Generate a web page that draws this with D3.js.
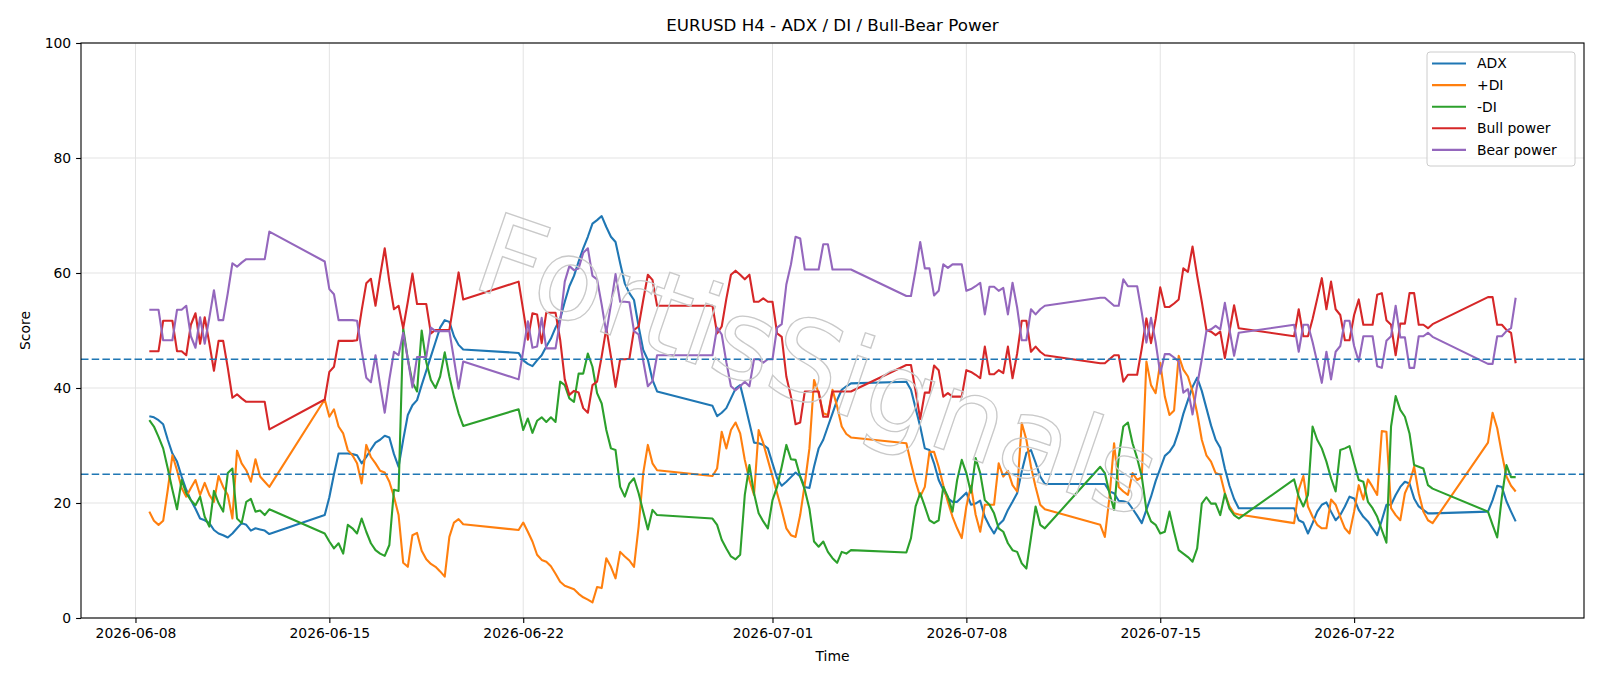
<!DOCTYPE html>
<html>
<head>
<meta charset="utf-8">
<script src="https://cdn.jsdelivr.net/npm/d3@7"></script>
<style>
  body { margin: 0; background: #fff; }
  svg { display: block; }
  text { font-family: "DejaVu Sans", sans-serif; }
</style>
</head>
<body>
<div id="chart"></div>
<script>
// H4 trading sessions (each expanded into 4h bars)
const sessions = [
  ["2026-06-08T12:00", "2026-06-12T20:00"],
  ["2026-06-14T20:00", "2026-06-19T20:00"],
  ["2026-06-21T20:00", "2026-06-26T20:00"],
  ["2026-06-28T20:00", "2026-07-03T20:00"],
  ["2026-07-05T20:00", "2026-07-10T20:00"],
  ["2026-07-12T20:00", "2026-07-17T20:00"],
  ["2026-07-19T20:00", "2026-07-24T20:00"],
  ["2026-07-26T20:00", "2026-07-27T20:00"]
];

const adx = [
  35.1, 34.9, 34.4, 33.7, 31, 28.6, 27.2, 24.6, 22.3, 20.5, 19, 17.3, 17, 16.5, 15.3, 14.7, 14.4, 14, 14.7, 15.6, 16.5, 16.2, 15.2, 15.6, 15.4, 15.2, 14.6,
  17.9, 21, 25, 28.6, 28.6, 28.6, 28.5, 28.3, 26.9, 28, 29.3, 30.5, 31, 31.7, 31.4, 28.5, 26.3, 31, 35.3, 37, 37.9, 40.5, 43, 45.5, 48, 50.5, 51.8, 51.5, 49, 47.5, 46.7,
  46.1, 44.8, 44.2, 43.8, 44.8, 45.7, 47.2, 48.6, 50.5, 52, 55, 57.7, 59.5, 62, 64.3, 66.3, 68.6, 69.2, 69.9, 68, 66.3, 65.4, 61.7, 58.2, 56.5, 55.3, 50.7, 46.6, 44.9, 41.4, 39.4,
  36.9, 35.1, 35.7, 36.5, 38.2, 39.9, 40.5, 37.3, 33.9, 30.5, 30.4, 30.1, 29.5, 26.9, 24.3, 23, 23.7, 24.5, 25.3, 24.6, 22.8, 22.6, 26.3, 29.5, 31, 33.3, 35.6, 37.9, 39.7, 40.3, 40.8,
  41.1, 39.7, 36.5, 33.3, 29.5, 29.2, 26.9, 24, 22.3, 20.8, 20.2, 20.2, 21, 21.8, 19.7, 19.9, 20.4, 17.6, 16, 14.7, 16.2, 17, 18.8, 20.2, 21.7, 25.5, 28.7, 29.2, 27, 24.6, 23.3,
  23.3, 23.3, 22, 21.7, 20.4, 20.3, 20.1, 19, 17.8, 16.5, 18.8, 21.1, 23.8, 26, 28.2, 28.9, 30.1, 32.5, 35.5, 37.9, 40.2, 41.8, 39.5, 36.5, 33.5, 31, 29.6, 26, 23, 20.7, 19.1,
  19.1, 17, 16.6, 14.7, 16.5, 18.5, 19.7, 20.1, 18.5, 17, 17.9, 19.4, 21.1, 20.8, 18.8, 17.6, 16.8, 15.6, 14.4, 17, 19.7, 19.7, 21.4, 22.8, 23.7, 23.4, 20.8, 19.4, 18.8, 18.2, 18.2,
  18.5, 20.5, 23, 22.8, 20.3, 18.5, 16.8
];

const plusDI = [
  18.5, 16.9, 16.2, 16.9, 22.3, 28.3, 25.7, 22.6, 21.1, 22.6, 24, 21.4, 23.5, 21.4, 20.2, 24.7, 22.8, 21.4, 17.3, 29.1, 26.9, 25.7, 23.7, 27.6, 24.6, 23.7, 22.8,
  38, 35, 36.3, 33.3, 32.1, 29.2, 28.3, 26.9, 23.4, 30.1, 28, 26.9, 25.6, 25.3, 23.7, 21.1, 17.9, 9.6, 8.9, 14.4, 14.8, 11.7, 10.2, 9.4, 8.9, 8.1, 7.2, 14.1, 16.6, 17.2, 16.3,
  15.3, 16.6, 15, 13.3, 11, 10.1, 9.8, 9, 7.7, 6.3, 5.6, 5.3, 5, 4.2, 3.6, 3.2, 2.7, 5.4, 5.2, 10.4, 8.9, 6.9, 11.5, 10.7, 10, 8.9, 15.9, 25.2, 30.1, 26.9, 25.7,
  24.7, 26, 32.4, 29.5, 32.7, 34, 32.1, 27.5, 24, 21.4, 32.7, 30.4, 27.5, 24.6, 21.7, 18.8, 15.6, 14.4, 14.1, 17.9, 23.3, 29.5, 41.4, 39.1, 35.6, 35.3, 39.7, 36.8, 33.3, 32, 31.4,
  30.4, 26.9, 23.7, 21.1, 22.8, 28.9, 28.9, 26.3, 23.1, 20.2, 17.6, 15.6, 13.9, 19.4, 23, 18, 15, 19.7, 19.7, 19.7, 26.9, 24.6, 25.6, 23.1, 22, 33.9, 31, 26.3, 22.8, 19.7, 18.9,
  16.2, 14.1, 21, 30.4, 22.8, 22, 21.4, 25.2, 24, 24.5, 44.6, 40.5, 39.1, 44.4, 38.5, 35.3, 36.1, 45.6, 43.2, 42, 39.4, 35.6, 31, 28.3, 27.2, 25.2, 24.9, 21.7, 19.4, 18.2, 18,
  16.5, 22.3, 24.7, 19.4, 17.6, 16.2, 15.6, 15.6, 20.6, 19.7, 17.6, 15.6, 14.7, 18.5, 23.1, 20.6, 24.1, 22.8, 21.4, 32.5, 32.4, 19.1, 17.9, 17, 21.7, 23.5, 26.3, 21.7, 18.5, 17, 16.5,
  30.5, 35.7, 33, 28.6, 24.6, 23, 22
];

const minusDI = [
  34.4, 33.3, 31.5, 29.5, 26, 22.3, 18.9, 24, 21.7, 20.5, 19.6, 21.1, 17.6, 15.9, 22.1, 20, 18.5, 25.2, 26, 17.3, 16.5, 20.2, 20.7, 18.5, 18.7, 17.9, 18.9,
  14.7, 13.3, 12.1, 13, 11.2, 16.2, 15.6, 14.7, 17.3, 15, 13, 11.8, 11.2, 10.8, 12.7, 22.3, 22.1, 50.4, 45, 41, 39.4, 50, 44.5, 41.4, 40, 42, 46.2, 42, 38.5, 35.6, 33.4,
  36.3, 32.7, 34.7, 32.2, 34.3, 34.9, 34.1, 34.9, 34.1, 41.1, 40.5, 38.2, 37.6, 42.5, 42.5, 46, 43.7, 39.1, 37.3, 32.7, 29.5, 29.2, 22.8, 21.1, 23.4, 24.3, 21.7, 18.5, 15.4, 18.8, 17.9,
  17.3, 16.2, 13.6, 12.1, 10.7, 10.2, 11, 21.4, 26.6, 21.7, 18.2, 16.8, 15.6, 20.5, 22.8, 26.3, 30.1, 27.6, 27.5, 24.6, 22.3, 19, 13.3, 12.4, 13.3, 11.5, 10.4, 9.6, 11.5, 11.2, 11.8,
  11.4, 13.9, 19.4, 21.7, 19.4, 17, 16.5, 17, 22.8, 21.1, 18.5, 24, 27.5, 25.2, 21.8, 27.8, 25.2, 20.5, 19.7, 18.2, 15.6, 15, 13, 11.8, 11.5, 9.5, 8.6, 14, 19.4, 16.2, 15.6,
  26.3, 25.2, 21.7, 18.8, 28, 33.3, 34, 30.4, 27.8, 24.6, 18.8, 16.8, 16.2, 14.7, 15, 18.5, 15, 11.8, 11.2, 10.6, 9.8, 12.1, 19.9, 21, 19.9, 19.9, 17.9, 21.6, 19, 17.9, 17.3,
  24.1, 21.1, 19.4, 21.4, 33.3, 31, 29.5, 27.2, 24.3, 22, 29.2, 29.5, 29.9, 26.9, 24, 23.7, 20.2, 19.1, 17.6, 15.3, 13.1, 33.3, 38.6, 36.2, 35, 32.1, 26.6, 26.3, 26, 23.1, 22.5,
  18.5, 16.2, 14, 21, 26.6, 24.5, 24.5
];

const bullPower = [
  46.4, 46.4, 46.4, 51.7, 51.7, 51.7, 46.4, 46.4, 45.7, 51, 53, 47.7, 52.3, 47.8, 43, 48.2, 48.2, 43.5, 38.3, 38.9, 38.2, 37.6, 37.6, 37.6, 37.6, 37.6, 32.8,
  38, 42.8, 43.7, 48.2, 48.2, 48.2, 48.2, 48.3, 53.5, 58.2, 59, 54.3, 59.5, 64.3, 58.5, 53.7, 54.3, 50.4, 55, 59.9, 54.6, 54.6, 54.6, 49.5, 50.1, 50.1, 50.1, 50.1, 55, 60.1, 55.4,
  58.5, 53.5, 48.4, 53, 52.8, 47.8, 53.1, 53.1, 53.1, 48.4, 41.5, 38.8, 39.5, 39.2, 36.5, 35.7, 40.5, 41.1, 45.5, 50.4, 45.5, 40.2, 45, 45, 45.1, 50.1, 50.7, 55.3, 59.7, 58.8, 54.3,
  54.3, 49.5, 50.7, 55.5, 59.7, 60.4, 59.7, 58.9, 59.7, 55, 55, 55.6, 55, 55, 49.5, 48.9, 42, 38.5, 33.7, 34, 39.4, 39.4, 39.4, 39.4, 35, 35, 39.4, 39.4, 39.4, 39.4, 39.4,
  44, 44, 39.5, 34.6, 39.2, 39.2, 43.9, 43.1, 38.5, 39.1, 38.5, 38.5, 38.5, 43.1, 42.8, 42.3, 41.7, 47.2, 42.4, 42.4, 43.1, 42.6, 47.2, 41.7, 46, 51.7, 51.7, 46.3, 47.2, 46.3, 45.7,
  44.3, 44.3, 45, 45.7, 45.7, 41.1, 42.3, 42.3, 42.3, 46.9, 52.1, 47.8, 52, 57.5, 54.1, 54.1, 54.7, 55.4, 60.8, 60.2, 64.6, 59.5, 55, 50.1, 49.8, 49.2, 49.8, 45.2, 49.8, 54.4, 50.4,
  49, 53.7, 49, 49, 52, 55.5, 59.1, 53.7, 58.5, 53.7, 52.7, 48.3, 48.3, 52.7, 55.4, 51, 51, 51, 56.2, 56.5, 51.8, 51, 45.7, 51.2, 51.2, 56.5, 56.5, 51, 51, 50.4, 51.1,
  55.8, 55.8, 51, 51, 50.1, 49.6, 44.3
];

const bearPower = [
  53.6, 53.6, 53.6, 48.3, 48.3, 48.3, 53.6, 53.6, 54.3, 49, 47, 52.3, 47.7, 52.2, 57, 51.8, 51.8, 56.5, 61.7, 61.1, 61.8, 62.4, 62.4, 62.4, 62.4, 62.4, 67.2,
  62, 57.2, 56.3, 51.8, 51.8, 51.8, 51.8, 51.7, 46.5, 41.8, 41, 45.7, 40.5, 35.7, 41.5, 46.3, 45.7, 49.6, 45, 40.1, 45.4, 45.4, 45.4, 50.5, 49.9, 49.9, 49.9, 49.9, 45, 39.9, 44.6,
  41.5, 46.5, 51.6, 47, 47.2, 52.2, 46.9, 46.9, 46.9, 51.6, 58.5, 61.2, 60.5, 60.8, 63.5, 64.3, 59.5, 58.9, 54.5, 49.6, 54.5, 59.8, 55, 55, 54.9, 49.9, 49.3, 44.7, 40.3, 41.2, 45.7,
  45.7, 50.5, 49.3, 44.5, 40.3, 39.6, 40.3, 41.1, 40.3, 45, 45, 44.4, 45, 45, 50.5, 51.1, 58, 61.5, 66.3, 66, 60.6, 60.6, 60.6, 60.6, 65, 65, 60.6, 60.6, 60.6, 60.6, 60.6,
  56, 56, 60.5, 65.4, 60.8, 60.8, 56.1, 56.9, 61.5, 60.9, 61.5, 61.5, 61.5, 56.9, 57.2, 57.7, 58.3, 52.8, 57.6, 57.6, 56.9, 57.4, 52.8, 58.3, 54, 48.3, 48.3, 53.7, 52.8, 53.7, 54.3,
  55.7, 55.7, 55, 54.3, 54.3, 58.9, 57.7, 57.7, 57.7, 53.1, 47.9, 52.2, 48, 42.5, 45.9, 45.9, 45.3, 44.6, 39.2, 39.8, 35.4, 40.5, 45, 49.9, 50.2, 50.8, 50.2, 54.8, 50.2, 45.6, 49.6,
  51, 46.3, 51, 51, 48, 44.5, 40.9, 46.3, 41.5, 46.3, 47.3, 51.7, 51.7, 47.3, 44.6, 49, 49, 49, 43.8, 43.5, 48.2, 49, 54.3, 48.8, 48.8, 43.5, 43.5, 49, 49, 49.6, 48.9,
  44.2, 44.2, 49, 49, 49.9, 50.4, 55.7
];

const seriesNames = ["ADX", "+DI", "-DI", "Bull power", "Bear power"];
const seriesColors = ["#1f77b4", "#ff7f0e", "#2ca02c", "#d62728", "#9467bd"];
const levels = [45, 25];
const yTicks = [0, 20, 40, 60, 80, 100];
const xTickLabels = ["2026-06-08", "2026-06-15", "2026-06-22", "2026-07-01", "2026-07-08", "2026-07-15", "2026-07-22"];

const margin = {top: 43, right: 16, bottom: 68, left: 81},
    width = 1600 - margin.left - margin.right,
    height = 686 - margin.top - margin.bottom;

const parseUtc = d3.utcParse("%Y-%m-%dT%H:%M");
const times = [];
sessions.forEach(s => {
    const start = parseUtc(s[0]), end = parseUtc(s[1]);
    d3.utcHour.every(4).range(start, new Date(+end + 1)).forEach(t => times.push(t));
});

const svg = d3.select("#chart")
    .append("svg")
    .attr("width", 1600)
    .attr("height", 686);

const g = svg.append("g")
    .attr("transform", "translate(" + margin.left + "," + margin.top + ")");

// matplotlib-like 5% margin on the time axis
const t0 = +times[0], t1 = +times[times.length - 1], span = t1 - t0;
const x = d3.scaleUtc()
    .domain([new Date(t0 - 0.05 * span), new Date(t1 + 0.05 * span)])
    .range([0, width]);

const y = d3.scaleLinear().domain([0, 100]).range([height, 0]);

const parseDay = d3.utcParse("%Y-%m-%d");
const xTicks = xTickLabels.map(parseDay);

// grid
g.append("g").selectAll("line").data(xTicks).enter().append("line")
    .attr("x1", d => x(d)).attr("x2", d => x(d))
    .attr("y1", 0).attr("y2", height)
    .style("stroke", "#e3e3e3").style("stroke-width", 1);
g.append("g").selectAll("line").data(yTicks).enter().append("line")
    .attr("x1", 0).attr("x2", width)
    .attr("y1", d => y(d)).attr("y2", d => y(d))
    .style("stroke", "#e3e3e3").style("stroke-width", 1);

// series
const allSeries = [adx, plusDI, minusDI, bullPower, bearPower];
const line = d3.line()
    .x((d, i) => x(times[i]))
    .y(d => y(d));

allSeries.forEach((vals, k) => {
    g.append("path")
        .datum(vals)
        .attr("d", line)
        .style("fill", "none")
        .style("stroke", seriesColors[k])
        .style("stroke-width", 2.1)
        .style("stroke-linejoin", "round");
});

// threshold lines
g.append("g").selectAll("line").data(levels).enter().append("line")
    .attr("x1", 0).attr("x2", width)
    .attr("y1", d => y(d)).attr("y2", d => y(d))
    .style("stroke", "#1f77b4")
    .style("stroke-width", 1.4)
    .style("stroke-dasharray", "7.5,3.2");

// watermark
svg.append("text")
    .attr("transform", "translate(805,402) rotate(19)")
    .attr("text-anchor", "middle")
    .style("font-size", "112px")
    .style("fill", "none")
    .style("stroke", "#c9c9c9")
    .style("stroke-width", 1.3)
    .text("FortisSignals");

// axes
const xAxis = g.append("g")
    .attr("transform", "translate(0," + height + ")")
    .call(d3.axisBottom(x).tickValues(xTicks).tickFormat(d3.utcFormat("%Y-%m-%d")).tickSize(4.9).tickPadding(4.9));
const yAxis = g.append("g")
    .call(d3.axisLeft(y).tickValues(yTicks).tickFormat(d3.format("d")).tickSize(4.9).tickPadding(4.9));

[xAxis, yAxis].forEach(a => {
    a.select(".domain").remove();
    a.selectAll("line").style("stroke", "#000").style("stroke-width", 1.1);
    a.selectAll("text").style("font-size", "13.9px").style("fill", "#000")
        .style("font-family", "'DejaVu Sans', sans-serif");
});

g.append("rect")
    .attr("width", width).attr("height", height)
    .style("fill", "none").style("stroke", "#000").style("stroke-width", 1.1);

// titles
svg.append("text")
    .attr("x", margin.left + width / 2).attr("y", 31)
    .attr("text-anchor", "middle")
    .style("font-size", "16.7px")
    .text("EURUSD H4 - ADX / DI / Bull-Bear Power");

svg.append("text")
    .attr("x", margin.left + width / 2).attr("y", 661)
    .attr("text-anchor", "middle")
    .style("font-size", "13.9px")
    .text("Time");

svg.append("text")
    .attr("transform", "translate(30," + (margin.top + height / 2) + ") rotate(-90)")
    .attr("text-anchor", "middle")
    .style("font-size", "13.9px")
    .text("Score");

// legend
const legend = svg.append("g").attr("transform", "translate(1427,52)");
legend.append("rect")
    .attr("width", 148).attr("height", 114).attr("rx", 3)
    .style("fill", "#fff").style("fill-opacity", 0.8)
    .style("stroke", "#cccccc").style("stroke-width", 1);

const items = legend.selectAll("g.item").data(seriesNames).enter().append("g")
    .attr("class", "item")
    .attr("transform", (d, i) => "translate(0," + (11.5 + i * 21.6) + ")");
items.append("line")
    .attr("x1", 5).attr("x2", 39).attr("y1", 0).attr("y2", 0)
    .style("stroke", (d, i) => seriesColors[i]).style("stroke-width", 2.1);
items.append("text")
    .attr("x", 50).attr("dy", "0.35em")
    .style("font-size", "13.9px")
    .text(d => d);
</script>
</body>
</html>
